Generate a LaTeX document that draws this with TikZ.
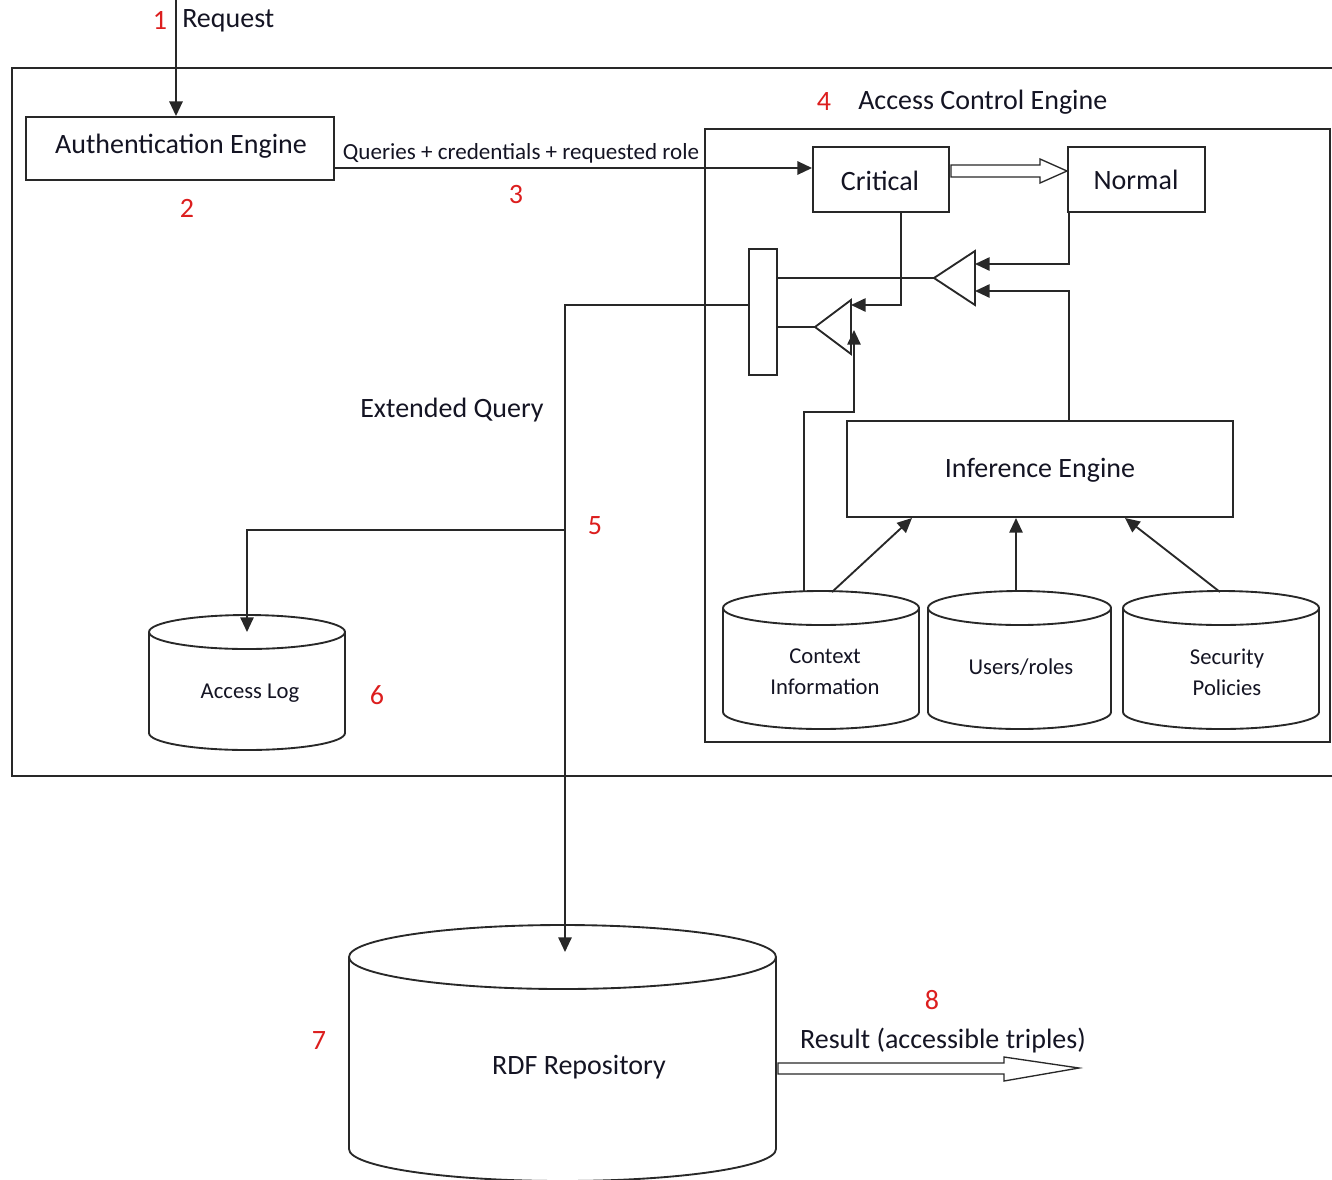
\documentclass[tikz,border=0pt]{standalone}
\usepackage{fontspec}
\setmainfont{Carlito}
\usetikzlibrary{arrows.meta,fit,calc}
\definecolor{linec}{RGB}{40,40,40}
\definecolor{txt}{RGB}{20,20,35}
\definecolor{numred}{RGB}{220,30,30}
\tikzset{
  ln/.style={line width=1.4pt, draw=linec},
  arr/.style={ln, -{Triangle[length=11pt,width=10pt]}},
  box/.style={ln, rectangle, inner sep=0pt},
  num/.style={text=numred, font=\fontsize{21}{24}\selectfont, inner sep=0pt},
  big/.style={font=\fontsize{21}{24}\selectfont, text=txt, inner sep=0pt},
  small/.style={font=\fontsize{17}{23}\selectfont, text=txt, inner sep=0pt, align=center},
  hollow/.style={line width=1pt, draw=linec, fill=white},
}
% cylinder: x1, x2, top-ellipse centre y, bottom-ellipse centre y, ry
\newcommand\mycyl[5]{%
  \draw[ln] ({(#1+#2)/2},-#3) ellipse [x radius={(#2-#1)/2}, y radius=#5];
  \draw[ln] (#1,-#3) -- (#1,-#4) arc[start angle=180, end angle=360, x radius={(#2-#1)/2}, y radius=#5] -- (#2,-#3);
}
\begin{document}
\begin{tikzpicture}[x=0.75pt,y=0.75pt]
\useasboundingbox (0,0) rectangle (1332,-1179);

% outer frame (open to the right)
\draw[ln] (1332,-68) -- (12,-68) -- (12,-776) -- (1332,-776);

% Request
\coordinate (reqtop) at (176,0);
\node[num] (n1) at (160,-20) {1};
\node[big, anchor=west] (req) at (182,-21) {Request};

% Authentication engine
\node[box, fit={(26,-117)(334,-180)}] (auth) {};
\node[big] (authl) at (181,-146) {Authentication Engine};
\node[num] (n2) at (187,-208) {2};
\draw[arr] (reqtop) -- (reqtop |- auth.north);

% Access control engine
\node[box, fit={(705,-129)(1330,-742)}] (ace) {};
\node[num] (n4) at (824,-102) {4};
\node[big, anchor=west] (acel) at (858,-102) {Access Control Engine};

\node[box, fit={(813,-147)(949,-212)}] (crit) {};
\node[big] (critl) at (880,-181) {Critical};
\node[box, fit={(1068,-147)(1205,-212)}] (norm) {};
\node[big] (norml) at (1136,-180) {Normal};

% queries arrow
\coordinate (q0) at (334,-168);
\draw[arr] (q0) -- (q0 -| crit.west);
\node[font=\fontsize{17.3}{20}\selectfont, text=txt, inner sep=0pt] (ql) at (521,-153) {Queries + credentials + requested role};
\node[num] (n3) at (516,-195) {3};

% hollow arrow critical -> normal
\draw[hollow] (951,-165) -- (1040,-165) -- (1040,-159) -- (1067,-171) -- (1040,-183) -- (1040,-177) -- (951,-177) -- cycle;

% bar
\node[box, fit={(749,-249)(777,-375)}] (bar) {};

% triangles
\coordinate (t1apex) at (934,-278);
\coordinate (t1a) at (975,-264);
\coordinate (t1b) at (975,-291);
\draw[ln] (t1apex) -- (975,-251) -- (975,-305) -- cycle;
\coordinate (t2apex) at (815,-327);
\coordinate (t2a) at (851,-305);
\coordinate (t2b) at (854,-330);
\draw[ln] (t2apex) -- (851,-300) -- (851,-354) -- cycle;

% Inference engine
\node[box, fit={(847,-421)(1233,-517)}] (inf) {};
\node[big] (infl) at (1040,-470) {Inference Engine};

% connectors in the access control engine
\draw[arr] (1069,-212) |- (t1a);
\draw[arr] (1069,-421) |- (t1b);
\draw[ln] (t1apex) -- (t1apex -| bar.east);
\draw[arr] (901,-212) |- (t2a);
\draw[ln] (t2apex) -- (t2apex -| bar.east);

% cylinders in ACE
\mycyl{723}{919}{608}{712}{17}
\mycyl{928}{1111}{608}{712}{17}
\mycyl{1123}{1319}{608}{712}{17}
\node[small] (ctx) at (825,-672) {Context\\Information};
\node[small] (usr) at (1021,-667) {Users/roles};
\node[small] (sec) at (1227,-672) {Security\\Policies};
\coordinate (ctxtop) at (804,-592);
\draw[arr] (ctxtop) -- (804,-412) -| (t2b);
\draw[arr] (832,-592) -- (912,-518);
\draw[arr] (1016,-591) -- (1016,-518);
\draw[arr] (1220,-592) -- (1125,-518);

% extended query path
\coordinate (eq) at (565,-305);
\coordinate (split) at (565,-530);
\coordinate (logtip) at (247,-632);
\coordinate (rdftip) at (565,-952);
\draw[arr] (eq -| bar.west) -- (eq) -- (rdftip);
\draw[arr] (split) -- (247,-530) -- (logtip);
\node[big] (eql) at (452,-410) {Extended Query};
\node[num] (n5) at (595,-526) {5};

% Access log
\mycyl{149}{345}{632}{733}{17}
\node[small] (logl) at (250,-693) {Access Log};
\node[num] (n6) at (377,-695) {6};

% RDF repository
\mycyl{349}{776}{957}{1149}{32}
\node[big] (rdfl) at (579,-1067) {RDF Repository};
\node[num] (n7) at (319,-1041) {7};

% result
\draw[hollow] (778,-1063) -- (1004,-1063) -- (1004,-1057) -- (1079,-1068) -- (1004,-1081) -- (1004,-1074) -- (778,-1074) -- cycle;
\node[num] (n8) at (932,-1000) {8};
\node[big] (resl) at (943,-1040) {Result (accessible triples)};
\end{tikzpicture}
\end{document}
